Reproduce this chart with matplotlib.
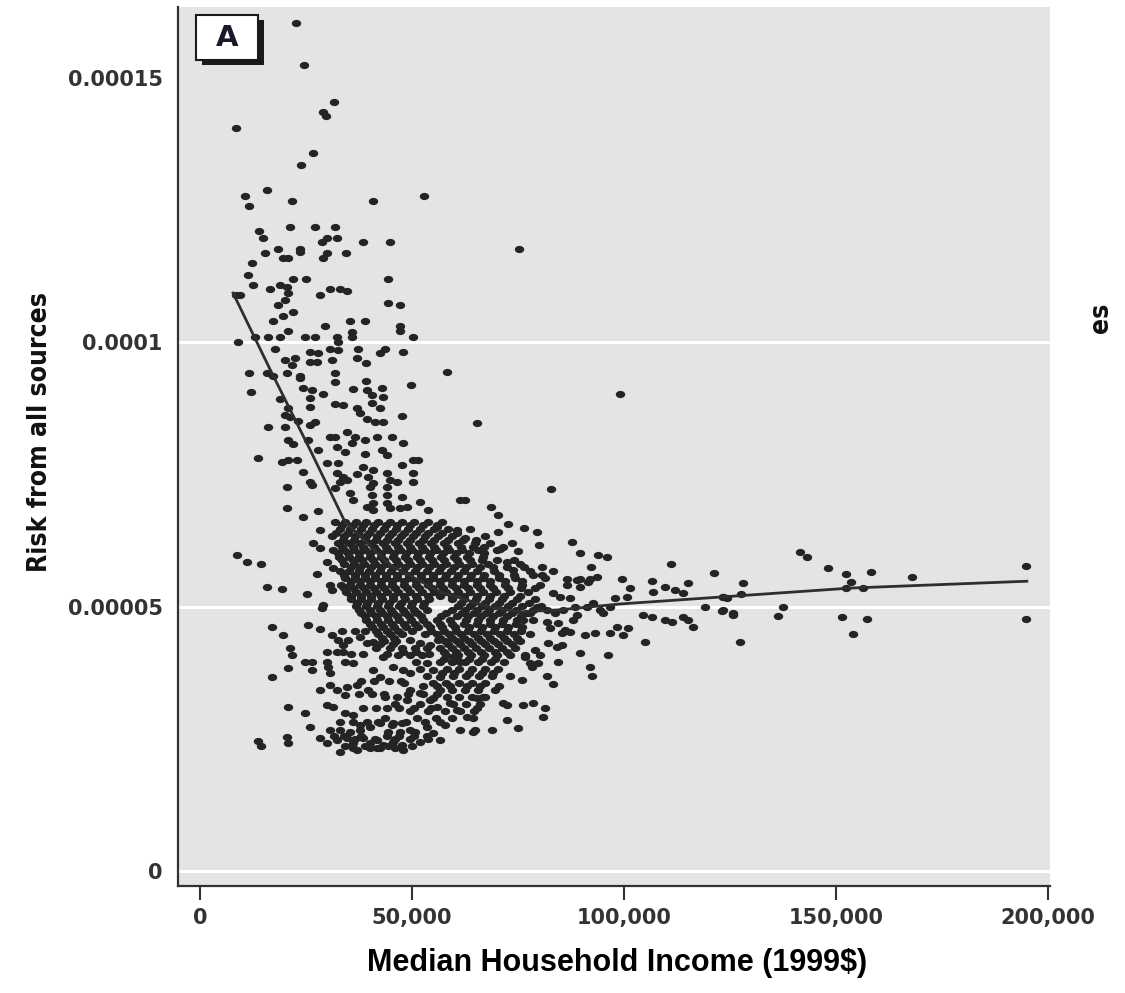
import numpy as np
import matplotlib
matplotlib.use("Agg")
import matplotlib.pyplot as plt
from matplotlib.path import Path
from matplotlib.patches import Rectangle
import matplotlib.transforms as mtransforms

# ---------------- data (income in $1000, risk in 1e-6) ----------------
# sparse upper tail
upper_income = [22.7, 24.5, 31.6, 29.0, 29.7, 8.5, 26.7, 23.8, 15.8, 10.6, 11.6, 21.7, 40.8, 52.9,
                75.3, 21.2, 27.1, 31.9, 13.9, 14.9, 30.0, 32.3, 28.8, 38.5, 44.8, 18.4, 23.6, 23.6,
                15.3, 19.6, 20.8, 30.0, 29.0, 34.5, 12.3, 11.3, 12.5, 16.5, 18.9, 20.5, 21.9, 25.0,
                44.4, 8.5, 9.4, 28.3, 30.7, 33.0, 34.7]
upper_risk = [160.3, 152.5, 145.5, 143.6, 142.7, 140.6, 135.7, 133.6, 128.7, 127.6, 125.7, 126.8, 126.8, 127.6,
              117.7, 121.7, 121.7, 121.7, 121.0, 119.8, 119.8, 119.8, 118.9, 118.9, 118.9, 117.7, 117.7, 117.0,
              116.8, 116.0, 116.0, 116.8, 115.9, 116.8, 114.9, 112.8, 110.8, 110.0, 110.8, 110.4, 111.9, 111.9,
              111.9, 108.9, 108.9, 108.9, 110.0, 110.0, 109.6]

# left arm (steep decline region)
arm_income = [18.4, 20.0, 20.8, 19.6, 21.9, 17.2, 44.4, 47.2, 35.4, 38.9, 29.5, 47.2, 47.2, 20.8, 35.9, 35.9,
              9.0, 13.0, 16.0, 18.9, 24.8, 27.1, 32.3, 32.6, 50.3, 17.7, 30.7, 32.6, 26.0, 27.8, 37.3, 37.1,
              43.7, 42.5, 47.9, 20.0, 22.4, 21.7, 26.0, 27.6, 31.2, 39.2, 58.3, 11.6, 15.8, 17.2, 20.5, 23.6,
              23.6, 31.9, 31.9, 39.2, 49.8, 12.0, 24.3, 26.4, 26.0, 29.0, 36.1, 39.4, 40.6, 43.0, 43.2, 18.9,
              31.9, 33.7, 26.0, 37.1, 37.8, 40.6, 42.5, 20.8, 20.0, 21.2, 39.4, 41.3, 43.2, 47.7, 65.4, 16.0,
              20.0, 23.1, 26.0, 27.1, 34.7, 30.7, 31.9, 36.6, 38.9, 41.8, 45.3, 20.8, 21.9, 25.5, 47.9, 27.8,
              32.3, 34.2, 35.9, 38.9, 43.0, 44.1, 13.7, 19.4, 20.8, 22.9, 30.0, 32.6, 38.5, 40.8, 47.7, 50.3,
              51.4, 24.3, 32.3, 33.7, 34.7, 33.0, 37.1, 39.6, 40.8, 40.1, 44.1, 44.8, 44.1, 46.5, 50.3, 50.3,
              20.5, 26.4, 26.0, 31.9, 35.4, 36.1, 40.6, 40.8, 44.1, 44.1, 47.7, 51.9, 53.8, 61.4, 62.5, 20.5,
              27.8, 24.3, 39.4, 40.8, 44.8, 47.2, 48.9, 28.3, 60.7, 62.5, 55.9]
arm_risk = [107.0, 107.9, 109.4, 104.9, 105.8, 104.0, 107.5, 107.0, 104.0, 104.0, 103.0, 103.0, 102.1, 102.1, 101.9, 100.9,
            100.0, 100.9, 100.9, 100.9, 100.9, 100.9, 100.9, 100.0, 100.9, 98.8, 98.8, 98.5, 98.1, 97.9, 98.8, 97.1,
            98.8, 97.9, 98.1, 96.6, 97.0, 95.6, 96.2, 96.2, 96.6, 96.0, 94.3, 94.1, 94.1, 93.7, 94.1, 93.7,
            93.2, 94.1, 92.4, 92.6, 92.0, 90.5, 91.3, 90.9, 89.4, 90.3, 91.1, 90.9, 90.0, 91.3, 89.6, 89.2,
            88.3, 88.1, 87.7, 87.5, 86.6, 88.5, 87.5, 87.5, 86.2, 85.8, 85.4, 84.9, 84.9, 86.0, 84.7, 83.9,
            83.9, 85.1, 84.3, 84.9, 83.0, 82.0, 82.0, 82.0, 81.5, 82.0, 82.0, 81.6, 80.7, 81.5, 80.9, 79.6,
            80.1, 79.2, 80.9, 78.8, 79.6, 78.6, 78.1, 77.3, 77.7, 77.7, 77.1, 77.1, 76.4, 75.8, 76.7, 77.7,
            77.7, 75.4, 75.2, 74.5, 73.9, 73.5, 75.0, 74.5, 73.3, 72.6, 75.2, 73.9, 72.6, 73.5, 75.2, 73.5,
            72.6, 73.0, 73.5, 72.4, 71.4, 70.1, 71.1, 69.6, 71.1, 69.6, 70.7, 69.7, 68.2, 70.2, 70.2, 68.6,
            68.0, 66.9, 68.8, 68.2, 68.6, 68.6, 68.8, 64.4, 64.4, 62.9, 65.0]

# dense core: one risk level per row with the incomes seen on that row
core_risk = [66.0, 65.35, 64.7, 64.0, 63.3, 62.65, 62.0, 61.35, 60.7, 60.05, 59.4, 58.75, 58.1, 57.4,
             56.7, 56.05, 55.4, 54.75, 54.1, 53.45, 52.8, 52.1, 51.4, 50.75, 50.1, 49.45, 48.8, 48.15,
             47.5, 46.8, 46.1, 45.45, 44.8, 44.15, 43.5, 42.85, 42.2, 41.5, 40.8, 40.15, 39.5, 38.2,
             36.9, 35.6, 34.2, 32.9, 31.6, 30.3, 28.9, 27.6, 26.3, 25.0, 23.6]
core_income = [
    [31.9, 34.2, 36.8, 39.2, 42.0, 44.8, 47.7, 50.5, 53.8, 57.1],
    [33.5, 36.0, 38.5, 41.0, 43.8, 46.5, 49.5, 52.5, 56.0],
    [33.0, 35.4, 38.0, 40.6, 43.4, 46.3, 49.1, 51.9, 55.2, 58.5, 63.7],
    [32.0, 34.8, 37.3, 39.9, 42.5, 45.3, 48.2, 51.0, 53.8, 57.0, 60.5],
    [31.2, 34.0, 36.6, 39.2, 41.8, 44.6, 47.4, 50.3, 53.1, 56.2, 59.5, 67.3],
    [33.8, 36.3, 38.8, 41.5, 44.0, 46.8, 49.6, 52.5, 55.3, 58.5, 62.0, 65.0],
    [32.6, 35.2, 37.8, 40.4, 43.2, 46.0, 48.9, 51.7, 54.5, 57.6, 60.9, 68.4, 73.6],
    [33.5, 36.0, 38.5, 41.0, 43.8, 46.6, 49.5, 52.3, 55.2, 58.2, 61.5, 64.5, 67.0, 71.5],
    [31.4, 34.0, 36.3, 38.9, 41.5, 44.4, 47.2, 50.0, 52.9, 55.7, 58.8, 61.8, 65.6, 70.1],
    [32.5, 35.0, 37.5, 40.0, 42.8, 45.7, 48.6, 51.5, 54.3, 57.2, 60.3, 63.5, 67.0],
    [32.8, 35.2, 37.5, 40.1, 42.7, 45.5, 48.4, 51.2, 54.0, 56.9, 59.9, 63.0, 66.8],
    [33.5, 36.0, 38.3, 40.8, 43.5, 46.2, 49.0, 51.9, 54.7, 57.6, 60.6, 63.6, 66.5, 70.0, 74.0],
    [34.0, 36.3, 38.7, 41.3, 43.9, 46.7, 49.6, 52.4, 55.2, 58.1, 61.1, 64.2, 68.0, 75.5],
    [35.5, 37.8, 40.3, 42.8, 45.5, 48.3, 51.2, 54.0, 56.8, 59.8, 62.8, 66.0, 69.0, 72.5, 76.5],
    [33.0, 35.2, 37.5, 39.9, 42.5, 45.1, 47.9, 50.7, 53.6, 56.4, 59.2, 62.3, 65.4, 69.4, 77.9, 83.3],
    [34.0, 36.5, 38.8, 41.2, 43.8, 46.5, 49.3, 52.2, 55.0, 57.9, 60.8, 63.9, 67.0, 70.5, 74.0, 78.5],
    [34.2, 36.6, 38.9, 41.3, 43.9, 46.5, 49.3, 52.2, 55.0, 57.8, 60.7, 63.7, 66.8, 70.6, 74.3, 81.4],
    [35.5, 37.8, 40.2, 42.7, 45.3, 48.0, 50.9, 53.7, 56.6, 59.5, 62.3, 65.3, 68.5, 72.0, 76.0],
    [33.3, 35.4, 37.8, 40.1, 42.7, 45.3, 48.1, 51.0, 53.8, 56.6, 59.5, 62.3, 65.4, 68.4, 72.0, 76.0, 80.2],
    [34.0, 36.2, 38.6, 41.0, 43.5, 46.1, 48.9, 51.7, 54.6, 57.4, 60.3, 63.1, 66.1, 69.2, 72.6, 75.8, 79.0],
    [34.5, 36.8, 39.2, 41.5, 44.1, 46.7, 49.6, 52.4, 55.2, 58.1, 60.9, 63.7, 66.8, 69.9, 73.2, 77.4],
    [35.5, 38.0, 40.4, 42.8, 45.4, 48.1, 50.9, 53.8, 56.6, 59.5, 62.3, 65.3, 68.4, 71.6, 75.5],
    [35.6, 38.0, 40.4, 43.0, 45.5, 48.4, 51.2, 54.0, 59.5, 62.3, 65.1, 68.2, 71.3, 74.8, 79.1],
    [37.0, 39.5, 42.0, 44.6, 47.3, 50.0, 52.8, 61.5, 64.3, 67.3, 70.4, 73.6, 77.5],
    [36.8, 39.2, 41.8, 44.4, 47.0, 49.8, 52.6, 60.9, 63.7, 66.6, 69.6, 72.7, 76.0, 80.5],
    [37.5, 40.0, 42.5, 45.0, 47.8, 50.5, 53.5, 59.5, 62.5, 65.3, 68.2, 71.2, 74.5, 78.5],
    [38.0, 40.4, 43.0, 45.5, 48.4, 51.2, 58.1, 61.8, 64.7, 67.5, 70.6, 73.6, 77.2],
    [39.0, 41.5, 44.0, 46.5, 49.3, 52.2, 56.8, 60.5, 63.3, 66.2, 69.2, 72.3, 75.8],
    [39.2, 41.8, 44.4, 47.0, 49.8, 52.6, 55.9, 59.0, 62.8, 65.6, 68.4, 71.5, 74.8, 78.6],
    [40.0, 42.6, 45.2, 48.0, 50.7, 53.6, 56.6, 59.5, 62.3, 65.3, 68.3, 71.3, 74.5],
    [40.6, 43.2, 45.8, 48.6, 51.4, 54.3, 57.1, 60.2, 63.5, 66.6, 69.6, 72.7, 76.0],
    [41.5, 44.0, 46.8, 50.0, 54.5, 57.5, 60.3, 63.2, 66.2, 69.3, 72.5, 75.8],
    [42.0, 44.8, 47.7, 53.1, 55.9, 58.8, 61.6, 64.7, 67.7, 70.8, 74.1, 77.9],
    [43.0, 45.8, 56.5, 59.5, 62.3, 65.5, 68.5, 71.7, 74.8],
    [43.4, 46.3, 57.8, 60.7, 63.5, 66.3, 69.4, 72.5, 75.5],
    [42.5, 45.5, 58.5, 61.3, 64.2, 67.3, 70.3, 73.5],
    [41.5, 44.8, 47.7, 50.7, 53.6, 56.6, 59.5, 62.3, 65.1, 68.2, 71.3, 74.3],
    [47.8, 51.0, 57.5, 60.3, 63.3, 66.3, 69.5, 72.5],
    [46.7, 49.6, 52.4, 58.1, 60.9, 64.0, 67.0, 70.1, 73.2, 76.7],
    [57.5, 60.5, 63.5, 66.5, 69.5],
    [51.0, 56.6, 59.5, 62.5, 65.6, 68.7, 71.7],
    [51.9, 58.3, 61.1, 64.2, 67.3, 70.3],
    [53.6, 59.7, 62.8, 65.8, 68.9, 73.2],
    [48.1, 55.0, 58.1, 61.1, 64.2, 67.3],
    [49.6, 56.6, 59.5, 62.5, 65.6, 69.6],
    [58.3, 61.1, 64.2, 67.3],
    [46.0, 51.9, 59.7, 62.8, 66.1],
    [49.6, 53.8, 57.8, 61.4, 64.7],
    [43.7, 51.2, 55.7, 59.5],
    [37.8, 45.3, 57.8],
    [35.4, 44.4, 47.2, 50.7],
    [36.6, 41.3, 46.0, 49.6, 53.8],
    [34.2, 38.9, 44.4, 50.0],
]

# lower-left cluster
low_income = [8.7, 11.1, 14.4, 15.8, 19.4, 25.3, 27.6, 30.0, 31.4, 26.7, 28.3, 30.7, 31.2, 29.0, 28.8, 17.0,
              19.6, 25.5, 28.3, 21.2, 21.7, 20.8, 17.0, 24.8, 26.4, 26.4, 30.0, 30.2, 30.7, 31.2, 32.6, 34.9,
              33.7, 30.0, 32.3, 33.7, 34.2, 36.1, 20.8, 24.8, 26.0, 20.5, 20.8, 28.3, 30.7, 32.3, 34.2, 34.7,
              37.1, 39.6, 30.0, 31.4, 34.2, 36.1, 30.7, 33.0, 28.3, 30.0, 32.3, 34.7, 36.1, 38.5, 40.1, 41.8,
              43.2, 45.5, 47.7, 33.0, 37.1, 41.8, 37.8, 40.1, 42.5, 40.8, 42.5, 43.2, 37.8, 39.4, 40.8, 49.5,
              51.9, 54.2, 56.1, 45.5, 47.9, 49.5, 53.6, 55.0, 56.6, 59.7, 61.4, 43.6, 46.5, 48.9, 51.9, 54.2,
              55.9, 59.0, 60.6, 63.0, 45.5, 47.7, 49.5, 53.6, 55.0, 56.6, 61.3, 64.4, 51.9, 47.9, 55.0, 13.7, 14.4,
              38.0, 41.0, 44.5, 47.5, 37.5, 40.5, 43.5, 49.0, 52.5, 56.0, 38.5, 41.5, 44.0, 47.0, 50.5, 54.5,
              33.0, 36.0, 39.5, 42.0, 48.5, 53.0, 56.5, 31.5, 34.0, 38.0, 44.0, 47.0, 50.5, 53.5, 36.0, 40.0,
              42.5, 46.0, 57.0, 60.0, 63.5, 66.5, 69.0, 52.5, 56.0, 59.0, 63.0, 66.0, 70.5, 35.5, 38.5, 44.0,
              54.0, 33.5, 36.5, 39.0]
low_risk = [59.7, 58.4, 58.0, 53.7, 53.3, 52.4, 56.1, 58.4, 57.3, 62.0, 61.0, 54.1, 53.1, 50.3, 49.7, 46.1,
            44.6, 46.5, 45.7, 42.1, 40.8, 38.4, 36.7, 39.5, 39.5, 38.0, 39.5, 38.6, 37.4, 44.6, 43.7, 43.7,
            42.7, 41.4, 41.4, 41.4, 39.5, 39.3, 31.0, 29.9, 27.2, 25.3, 24.2, 34.2, 35.2, 34.2, 33.3, 34.8,
            35.2, 34.2, 31.4, 31.0, 29.9, 29.5, 26.7, 26.7, 25.1, 24.2, 24.8, 25.1, 24.2, 25.1, 24.2, 24.8,
            23.8, 24.4, 23.8, 22.5, 22.9, 23.2, 26.7, 27.2, 28.0, 38.0, 36.7, 40.4, 44.2, 43.1, 43.3, 43.7,
            43.1, 42.7, 43.7, 38.6, 38.0, 37.4, 39.3, 38.0, 36.7, 40.4, 39.5, 32.9, 32.9, 32.3, 33.7, 32.3,
            31.0, 31.8, 30.4, 29.1, 28.0, 28.0, 26.7, 27.2, 26.1, 24.8, 26.7, 26.3, 24.4, 22.9, 32.7, 24.6, 23.6,
            36.0, 36.0, 36.0, 36.0, 33.5, 33.5, 33.5, 33.5, 33.5, 33.5, 30.8, 30.8, 30.8, 30.8, 30.8, 30.8,
            28.2, 28.2, 28.2, 28.2, 28.2, 28.2, 28.2, 25.6, 25.6, 25.6, 25.6, 25.6, 25.6, 25.6, 23.2, 23.2,
            23.2, 23.2, 37.5, 37.5, 37.5, 37.5, 37.5, 35.0, 35.0, 35.0, 35.0, 35.0, 35.0, 41.0, 41.0, 41.0,
            41.0, 45.3, 45.3, 45.3]

# right of the core
mid_income = [99.1, 82.8, 68.7, 70.3, 72.7, 70.3, 76.5, 79.5, 64.9, 70.8, 75.0, 80.0, 87.8, 89.7, 93.9, 96.0,
              92.3, 111.1, 121.3, 72.5, 73.9, 80.7, 80.7, 86.6, 89.7, 92.0, 99.6, 101.5, 100.8, 106.7, 106.9,
              109.7, 112.1, 113.8, 115.2, 123.4, 119.2, 123.2, 104.5, 106.7, 109.7, 111.4, 114.0, 115.2, 116.3,
              105.0, 101.0, 98.4, 99.8, 90.8, 93.2, 96.8, 86.1, 89.7, 96.2, 92.0, 92.5, 84.4, 81.8, 83.3, 75.9,
              78.3, 79.7, 71.5, 72.4, 76.2, 78.6, 81.4, 80.9, 72.4, 75.0, 64.9, 68.9, 65.4, 64.4, 65.4, 66.8,
              86.6, 89.7, 91.6, 87.3, 88.5, 89.0, 88.0, 91.3, 92.7, 94.4, 95.1, 96.8, 97.9, 83.3, 85.0, 81.9,
              83.8, 85.7, 79.5, 77.9, 76.2, 81.9, 84.5, 82.6, 85.4, 87.3, 82.1, 84.3, 85.4, 79.1, 80.2, 76.7,
              77.9, 89.0, 93.7]
mid_risk = [90.2, 72.2, 68.8, 67.3, 65.6, 64.1, 64.8, 64.1, 62.0, 60.9, 60.5, 61.6, 62.2, 60.1, 59.7, 59.4,
            57.5, 58.0, 56.3, 58.4, 56.9, 57.5, 56.0, 55.2, 55.2, 55.2, 55.2, 53.5, 51.8, 54.8, 52.7,
            53.7, 53.1, 52.6, 54.5, 51.8, 49.9, 49.2, 48.4, 48.0, 47.4, 47.1, 48.0, 47.4, 46.1,
            43.3, 45.9, 46.1, 44.6, 44.6, 45.0, 45.0, 45.6, 41.2, 40.8, 38.6, 36.9, 39.5, 36.9, 35.3, 36.1,
            38.6, 39.3, 31.8, 31.4, 31.4, 31.8, 30.8, 29.1, 28.5, 27.0, 26.7, 26.7, 30.8, 28.9, 32.7, 32.9,
            54.1, 53.7, 54.6, 51.6, 49.9, 48.4, 47.5, 49.9, 50.7, 49.4, 48.8, 49.9, 51.6, 52.6, 51.8, 49.4,
            48.8, 49.4, 49.9, 48.8, 47.5, 47.1, 46.9, 46.0, 45.0, 45.2, 43.1, 42.4, 42.7, 41.8, 40.8, 40.5,
            39.3, 55.0, 55.6]

# high-income tail
tail_income = [141.5, 143.2, 148.1, 152.4, 158.3, 167.9, 194.8, 153.5, 152.4, 156.4, 128.1, 127.6, 123.4,
               124.3, 123.4, 125.8, 125.6, 137.6, 136.4, 151.3, 157.4, 154.1, 127.4, 194.8]
tail_risk = [60.3, 59.4, 57.3, 56.2, 56.5, 55.6, 57.7, 54.6, 53.5, 53.5, 54.5, 52.4, 51.8,
             51.6, 49.3, 48.8, 48.4, 49.9, 48.2, 48.0, 47.6, 44.8, 43.3, 47.6]

# smooth fit line
fit_income = [7.8, 16.5, 26.0, 34.2, 44.8, 56.6, 68.4, 75.5, 84.9, 99.1, 122.6, 153.3, 195.0]
fit_risk = [109.3, 94.9, 79.6, 66.0, 57.9, 52.8, 49.9, 49.0, 49.4, 50.5, 51.8, 53.5, 54.8]

x_ticks = [0, 50000, 100000, 150000, 200000]
x_ticklabels = ["0", "50,000", "100,000", "150,000", "200,000"]
y_ticks = [0, 0.00005, 0.0001, 0.00015]
y_ticklabels = ["0", "0.00005", "0.0001", "0.00015"]

# ---------------- assemble ----------------
inc = list(upper_income) + list(arm_income) + list(low_income) + list(mid_income) + list(tail_income)
rsk = list(upper_risk) + list(arm_risk) + list(low_risk) + list(mid_risk) + list(tail_risk)
for r, row in zip(core_risk, core_income):
    inc += row
    rsk += [r] * len(row)
inc = np.array(inc) * 1000.0
rsk = np.array(rsk) * 1e-6

W, H = 1125, 993
fig = plt.figure(figsize=(W / 100, H / 100), dpi=100)
fig.patch.set_facecolor("white")

def fx(px):
    return px / W

def fy(py):
    return 1 - py / H

ax = fig.add_axes([fx(178), fy(886), fx(1050) - fx(178), fy(7) - fy(886)])
ax.set_facecolor("#e4e4e4")
ax.set_xlim(-5190, 200470)
ax.set_ylim(-2.84e-6, 163.4e-6)

for g in [0, 0.00005, 0.0001]:
    ax.axhline(g, color="white", lw=2.2, zorder=1)

ell = Path.unit_circle().transformed(mtransforms.Affine2D().scale(1.3, 1.0))
ax.scatter(inc, rsk, s=46, marker=ell, color="#242424", linewidths=0, zorder=3)
ax.plot(np.array(fit_income) * 1000, np.array(fit_risk) * 1e-6, color="#2e2e2e", lw=2.0, zorder=4)

for s in ["top", "right"]:
    ax.spines[s].set_visible(False)
ax.spines["left"].set_color("#333333")
ax.spines["left"].set_linewidth(1.6)
ax.spines["bottom"].set_color("#333333")
ax.spines["bottom"].set_linewidth(1.6)

ax.set_xticks(x_ticks)
ax.set_xticklabels(x_ticklabels)
ax.set_yticks(y_ticks)
ax.set_yticklabels(y_ticklabels)
ax.tick_params(axis="x", length=10, width=1.5, color="#333333", pad=6,
               labelsize=15, labelcolor="#333333")
ax.tick_params(axis="y", length=0, pad=11, labelsize=15, labelcolor="#333333")
for lab in ax.get_xticklabels() + ax.get_yticklabels():
    lab.set_fontweight("bold")
    lab.set_family("DejaVu Sans")

# axis titles
fig.text(fx(40), fy(432), "Risk from all sources", rotation=90, ha="center", va="center",
         fontsize=19, fontweight="bold", fontstretch="condensed", family="DejaVu Sans", color="#111111")
fig.text(fx(617), fy(963), "Median Household Income (1999$)", ha="center", va="center",
         fontsize=22, fontweight="bold", family=["Liberation Sans", "DejaVu Sans"], color="black")
fig.text(fx(1101), fy(318), "es", rotation=90, ha="center", va="center",
         fontsize=19, fontweight="bold", fontstretch="condensed", family="DejaVu Sans", color="#111111")

# panel label box with shadow
fig.add_artist(Rectangle((fx(202), fy(65)), fx(62), fy(20) - fy(65), transform=fig.transFigure,
                         facecolor="#1a1a1a", edgecolor="none", zorder=5))
fig.add_artist(Rectangle((fx(196), fy(60)), fx(62), fy(15) - fy(60), transform=fig.transFigure,
                         facecolor="white", edgecolor="#1a1a1a", lw=1.5, zorder=6))
fig.text(fx(227), fy(38), "A", ha="center", va="center", fontsize=21, fontweight="bold",
         family="DejaVu Sans", color="#1a1a2a", zorder=7)

fig.savefig("out.png", dpi=100)
